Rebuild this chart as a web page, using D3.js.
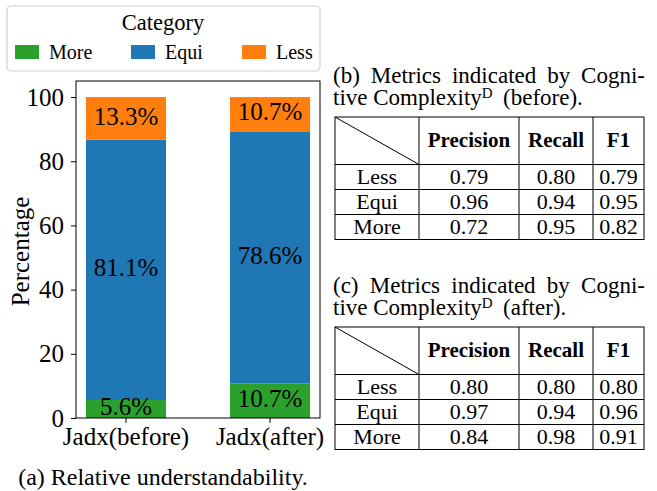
<!DOCTYPE html>
<html>
<head>
<meta charset="utf-8">
<script src="https://cdn.jsdelivr.net/npm/d3@7"></script>
<style>
  html, body { margin: 0; padding: 0; background: #fff; }
  svg { display: block; font-family: "Liberation Serif", "Times New Roman", serif; }
</style>
</head>
<body>
<svg id="chart" width="657" height="491"></svg>
<script>
// ---------- data ----------
const categories = ["Jadx(before)", "Jadx(after)"];
const seriesNames = ["More", "Equi", "Less"];
const moreValues = [5.6, 10.7];
const equiValues = [81.1, 78.6];
const lessValues = [13.3, 10.7];
const yTicks = [0, 20, 40, 60, 80, 100];
const seriesColors = ["#2ca02c", "#1f77b4", "#ff7f0e"];

const tableRows = ["Less", "Equi", "More"];
const tableCols = ["Precision", "Recall", "F1"];
const metricsBefore = [[0.79, 0.80, 0.79], [0.96, 0.94, 0.95], [0.72, 0.95, 0.82]];
const metricsAfter  = [[0.80, 0.80, 0.80], [0.97, 0.94, 0.96], [0.84, 0.98, 0.91]];

// ---------- setup ----------
const svg = d3.select("#chart");
const FS = 25;      // chart labels
const ax = {left: 76, right: 320, top: 81, bottom: 418};

const x = d3.scaleBand().domain(categories).range([ax.left, ax.right])
  .paddingInner(0.444).paddingOuter(0.069);
const y = d3.scaleLinear().domain([0, 105]).range([ax.bottom, ax.top]);

const rows = categories.map((c, i) => ({cat: c, More: moreValues[i], Equi: equiValues[i], Less: lessValues[i]}));
const stacked = d3.stack().keys(seriesNames)(rows);
const color = d3.scaleOrdinal().domain(seriesNames).range(seriesColors);

// bars
const layers = svg.append("g").selectAll("g").data(stacked).join("g")
  .attr("fill", d => color(d.key));
layers.selectAll("rect").data(d => d).join("rect")
  .attr("x", d => x(d.data.cat))
  .attr("width", x.bandwidth())
  .attr("y", d => y(d[1]))
  .attr("height", d => y(d[0]) - y(d[1]));

// bar labels
const fmt1 = d3.format(".1f");
svg.append("g").selectAll("g").data(stacked).join("g")
  .selectAll("text").data(d => d.map(v => ({v, key: d.key}))).join("text")
  .attr("x", d => x(d.v.data.cat) + x.bandwidth() / 2)
  .attr("y", d => y((d.v[0] + d.v[1]) / 2))
  .attr("dy", "0.25em")
  .attr("text-anchor", "middle")
  .attr("font-size", FS)
  .attr("fill", "#000")
  .text(d => fmt1(d.v.data[d.key]) + "%");

// axes
const yAxis = d3.axisLeft(y).tickValues(yTicks).tickSize(5).tickPadding(7);
const gy = svg.append("g").attr("transform", `translate(${ax.left},0)`).call(yAxis);
gy.attr("font-family", null).attr("font-size", null);
gy.select(".domain").remove();
gy.selectAll("text").attr("font-size", FS).attr("fill", "#000");
gy.selectAll("line").attr("stroke", "#000");

const xAxis = d3.axisBottom(x).tickSize(5).tickPadding(4.5);
const gx = svg.append("g").attr("transform", `translate(0,${ax.bottom})`).call(xAxis);
gx.attr("font-family", null).attr("font-size", null);
gx.select(".domain").remove();
gx.selectAll("text").attr("font-size", FS).attr("fill", "#000");
gx.selectAll("line").attr("stroke", "#000");

// frame
svg.append("rect")
  .attr("x", ax.left).attr("y", ax.top)
  .attr("width", ax.right - ax.left).attr("height", ax.bottom - ax.top)
  .attr("fill", "none").attr("stroke", "#000").attr("stroke-width", 1);

// y label
svg.append("text")
  .attr("transform", `translate(29,${(ax.top + ax.bottom) / 2 + 2}) rotate(-90)`)
  .attr("text-anchor", "middle").attr("font-size", FS)
  .text("Percentage");

// legend
const lg = svg.append("g");
lg.append("rect").attr("x", 7).attr("y", 6).attr("width", 313).attr("height", 65)
  .attr("rx", 4).attr("fill", "#fff").attr("stroke", "#d0d0d0").attr("stroke-width", 1.2);
lg.append("text").attr("x", 163).attr("y", 30).attr("text-anchor", "middle")
  .attr("font-size", 22.5).text("Category");
const legX = [15, 131, 242];
seriesNames.forEach((s, i) => {
  lg.append("rect").attr("x", legX[i]).attr("y", 45).attr("width", 24).attr("height", 14)
    .attr("fill", color(s));
  lg.append("text").attr("x", legX[i] + 34).attr("y", 59).attr("font-size", 20).text(s);
});

// caption (a)
svg.append("text").attr("x", 163).attr("y", 485).attr("text-anchor", "middle")
  .attr("font-size", 24).text("(a) Relative understandability.");

// ---------- tables ----------
const TFS = 22;
const HFS = 21;
const CFS = 23;
const colX = [335, 419, 519, 593, 644];
const rowOff = [0, 47.5, 72.5, 97.5, 122.5];
const fmt2 = d3.format(".2f");

function justifiedLine(g, words, x0, x1, yb) {
  const nodes = words.map(w => g.append("text").attr("y", yb).attr("font-size", CFS).text(w));
  const widths = nodes.map(n => n.node().getComputedTextLength());
  const total = d3.sum(widths);
  const gap = (x1 - x0 - total) / (words.length - 1);
  let cx = x0;
  nodes.forEach((n, i) => { n.attr("x", cx); cx += widths[i] + gap; });
}

function drawTable(top, label, when, data) {
  const g = svg.append("g");
  justifiedLine(g, [label, "Metrics", "indicated", "by", "Cogni-"], 333, 645, top - 34);
  const t2 = g.append("text").attr("x", 333).attr("y", top - 12).attr("font-size", CFS);
  t2.append("tspan").text("tive Complexity");
  t2.append("tspan").attr("font-size", 15).attr("dy", -7).text("D");
  t2.append("tspan").attr("dy", 7).text("\u00a0\u2009(" + when + ").");

  const bottom = top + rowOff[rowOff.length - 1];
  g.append("rect").attr("x", colX[0]).attr("y", top)
    .attr("width", colX[4] - colX[0]).attr("height", bottom - top)
    .attr("fill", "none").attr("stroke", "#000").attr("stroke-width", 1);
  colX.slice(1, 4).forEach(cx => g.append("line")
    .attr("x1", cx).attr("x2", cx).attr("y1", top).attr("y2", bottom)
    .attr("stroke", "#000").attr("stroke-width", 1));
  rowOff.slice(1, 4).forEach(ro => g.append("line")
    .attr("x1", colX[0]).attr("x2", colX[4]).attr("y1", top + ro).attr("y2", top + ro)
    .attr("stroke", "#000").attr("stroke-width", 1));
  g.append("line").attr("x1", colX[0]).attr("y1", top).attr("x2", colX[1]).attr("y2", top + rowOff[1])
    .attr("stroke", "#000").attr("stroke-width", 1);
  tableCols.forEach((c, j) => g.append("text")
    .attr("x", (colX[j + 1] + colX[j + 2]) / 2).attr("y", top + rowOff[1] / 2)
    .attr("dy", "0.32em").attr("text-anchor", "middle")
    .attr("font-size", HFS).attr("font-weight", "bold").text(c));
  tableRows.forEach((r, i) => {
    const cy = top + (rowOff[i + 1] + rowOff[i + 2]) / 2;
    g.append("text").attr("x", (colX[0] + colX[1]) / 2).attr("y", cy).attr("dy", "0.3em")
      .attr("text-anchor", "middle").attr("font-size", TFS).text(r);
    data[i].forEach((v, j) => g.append("text")
      .attr("x", (colX[j + 1] + colX[j + 2]) / 2).attr("y", cy).attr("dy", "0.3em")
      .attr("text-anchor", "middle").attr("font-size", TFS).text(fmt2(v)));
  });
}

drawTable(117, "(b)", "before", metricsBefore);
drawTable(327, "(c)", "after", metricsAfter);
</script>
</body>
</html>
